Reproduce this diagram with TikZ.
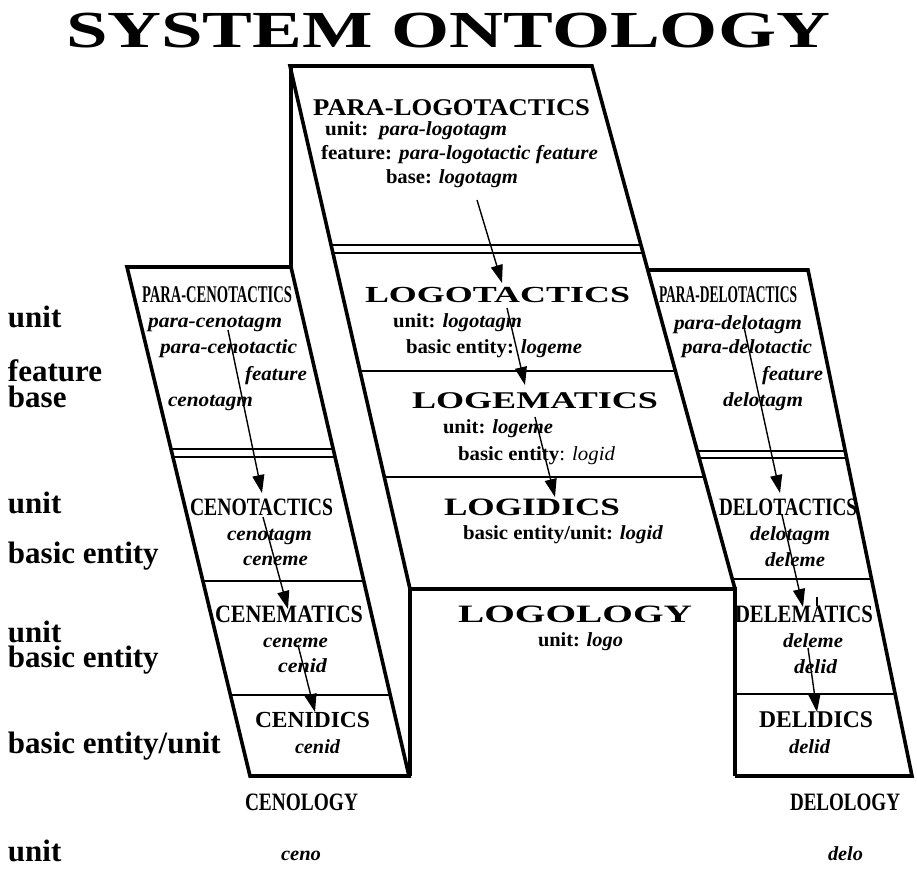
\documentclass[tikz,border=0pt]{standalone}
\usepackage{fontspec}
\setmainfont{Liberation Serif}
\usepackage{graphicx}
\usetikzlibrary{arrows.meta}
\newcommand\fw[2]{\resizebox{#1pt}{\height}{#2}}
\newcommand\fsz[1]{\fontsize{#1}{#1}\selectfont}
\begin{document}
\begin{tikzpicture}[x=1pt,y=-1pt,
  txt/.style={inner sep=0pt, outer sep=0pt, anchor=base west},
  lab/.style={txt, font=\fsz{31}\bfseries},
  edge/.style={line width=3.6pt, line join=miter},
  divider/.style={line width=2pt},
  thinline/.style={line width=1.4pt},
  flow/.style={line width=1.4pt, -{Triangle[length=18pt,width=12pt]}}]
\useasboundingbox (0,0) rectangle (917,868);

% ---------- outlines ----------
% central column
\coordinate (ctl) at (290,66);
\coordinate (ctr) at (592,66);
\coordinate (cbl) at (410,589);
\coordinate (cbr) at (735,589);
\draw[edge] (cbl) -- (ctl) -- (ctr) -- (cbr);
% back vertical and left column
\coordinate (bv) at (291,267);
\coordinate (ltl) at (127,267);
\coordinate (lbl) at (250,776);
\coordinate (lbr) at (409,776);
\draw[edge] (291,66) -- (bv) -- (ltl) -- (lbl) -- (lbr) -- (bv);
% logology face
\coordinate (gbl) at (410,776);
\coordinate (gbr) at (735,776);
\draw[edge] (gbl) -- (cbl) -- (cbr) -- (gbr);
% right column
\coordinate (rtl) at (647.8,270);
\coordinate (rtr) at (808,270);
\coordinate (rbr) at (912,776);
\draw[edge] (rtl) -- (rtr) -- (rbr) -- (gbr);

% ---------- dividers ----------
\draw[divider] (331.1,245) -- (640.9,245);
\draw[thinline] (332.9,253) -- (643.1,253);
\draw[divider] (360.0,371) -- (675.4,371);
\draw[divider] (384.3,477) -- (704.4,477);

\draw[divider] (171.0,449) -- (333.2,449);
\draw[thinline] (172.9,457) -- (335.0,457);
\draw[divider] (202.9,581) -- (363.8,581);
\draw[divider] (230.4,695) -- (390.2,695);

\draw[divider] (697.3,451) -- (845.2,451);
\draw[thinline] (699.2,458) -- (846.6,458);
\draw[divider] (732.3,579) -- (871.5,579);
\draw[divider] (735,694) -- (895.1,694);

% stray tick near DELEMATICS
\draw[line width=1.8pt] (817,597) -- (817,606);

% ---------- title ----------
\node[txt] (title) at (66,47) {\fw{764}{\fsz{52}\bfseries SYSTEM ONTOLOGY}};

% ---------- central column ----------
\node[txt] (plt) at (313,115) {\fw{277}{\fsz{24}\bfseries PARA-LOGOTACTICS}};
\node[txt] (plt1) at (325,135) {\fw{182}{\fsz{20}\bfseries unit:\ \ \textit{para-logotagm}}};
\node[txt] (plt2) at (321,159) {\fw{277}{\fsz{20}\bfseries feature: \textit{para-logotactic feature}}};
\node[txt] (plt3) at (386,183) {\fw{132}{\fsz{20}\bfseries base: \textit{logotagm}}};

\node[txt] (lt) at (365,302) {\fw{265}{\fsz{23}\bfseries LOGOTACTICS}};
\node[txt] (lt1) at (393,327) {\fw{129}{\fsz{20}\bfseries unit: \textit{logotagm}}};
\node[txt] (lt2) at (406,353) {\fw{176}{\fsz{20}\bfseries basic entity: \textit{logeme}}};

\node[txt] (lm) at (412,408) {\fw{246}{\fsz{24}\bfseries LOGEMATICS}};
\node[txt] (lm1) at (443,433) {\fw{110}{\fsz{20}\bfseries unit: \textit{logeme}}};
\node[txt] (lm2) at (458,460) {\fw{157}{\fsz{20}\textbf{basic entity}: \textit{logid}}};

\node[txt] (li) at (444,515) {\fw{176}{\fsz{25}\bfseries LOGIDICS}};
\node[txt] (li1) at (463,539) {\fw{200}{\fsz{20}\bfseries basic entity/unit: \textit{logid}}};

\node[txt] (lg) at (458,622) {\fw{234}{\fsz{25}\bfseries LOGOLOGY}};
\node[txt] (lg1) at (538,646) {\fw{85}{\fsz{20}\bfseries unit: \textit{logo}}};

% ---------- left column ----------
\node[txt] (pc) at (142,302) {\fw{150}{\fsz{24}\bfseries PARA-CENOTACTICS}};
\node[txt] (pc1) at (148,327) {\fw{134}{\fsz{20}\bfseries\itshape para-cenotagm}};
\node[txt] (pc2) at (160,353) {\fw{137}{\fsz{20}\bfseries\itshape para-cenotactic}};
\node[txt] (pc3) at (245,380) {\fw{62}{\fsz{20}\bfseries\itshape feature}};
\node[txt] (pc4) at (168,406) {\fw{85}{\fsz{20}\bfseries\itshape cenotagm}};

\node[txt] (ct) at (190,515) {\fw{143}{\fsz{25}\bfseries CENOTACTICS}};
\node[txt] (ct1) at (227,540) {\fw{85}{\fsz{20}\bfseries\itshape cenotagm}};
\node[txt] (ct2) at (243,565) {\fw{65}{\fsz{20}\bfseries\itshape ceneme}};

\node[txt] (cm) at (215,622) {\fw{148}{\fsz{25}\bfseries CENEMATICS}};
\node[txt] (cm1) at (263,647) {\fw{65}{\fsz{20}\bfseries\itshape ceneme}};
\node[txt] (cm2) at (278,672) {\fw{49}{\fsz{20}\bfseries\itshape cenid}};

\node[txt] (ci) at (255,727) {\fw{115}{\fsz{23}\bfseries CENIDICS}};
\node[txt] (ci1) at (295,753) {\fw{45}{\fsz{20}\bfseries\itshape cenid}};

\node[txt] (cl) at (245,810) {\fw{113}{\fsz{25}\bfseries CENOLOGY}};
\node[txt] (cl1) at (281,860) {\fw{40}{\fsz{20}\bfseries\itshape ceno}};

% ---------- right column ----------
\node[txt] (pd) at (659,302) {\fw{138}{\fsz{24}\bfseries PARA-DELOTACTICS}};
\node[txt] (pd1) at (674,329) {\fw{128}{\fsz{20}\bfseries\itshape para-delotagm}};
\node[txt] (pd2) at (682,353) {\fw{130}{\fsz{20}\bfseries\itshape para-delotactic}};
\node[txt] (pd3) at (762,380) {\fw{61}{\fsz{20}\bfseries\itshape feature}};
\node[txt] (pd4) at (723,406) {\fw{80}{\fsz{20}\bfseries\itshape delotagm}};

\node[txt] (dt) at (719,515) {\fw{138}{\fsz{25}\bfseries DELOTACTICS}};
\node[txt] (dt1) at (750,540) {\fw{80}{\fsz{20}\bfseries\itshape delotagm}};
\node[txt] (dt2) at (765,566) {\fw{60}{\fsz{20}\bfseries\itshape deleme}};

\node[txt] (dm) at (735,622) {\fw{138}{\fsz{25}\bfseries DELEMATICS}};
\node[txt] (dm1) at (783,647) {\fw{60}{\fsz{20}\bfseries\itshape deleme}};
\node[txt] (dm2) at (794,673) {\fw{43}{\fsz{20}\bfseries\itshape delid}};

\node[txt] (di) at (759,727) {\fw{114}{\fsz{24}\bfseries DELIDICS}};
\node[txt] (di1) at (789,753) {\fw{41}{\fsz{20}\bfseries\itshape delid}};

\node[txt] (dl) at (790,810) {\fw{110}{\fsz{25}\bfseries DELOLOGY}};
\node[txt] (dl1) at (828,860) {\fw{35}{\fsz{20}\bfseries\itshape delo}};

% ---------- left labels ----------
\node[lab] (r1) at (8,327) {unit};
\node[lab] (r2) at (8,381) {feature};
\node[lab] (r3) at (8,407) {base};
\node[lab] (r4) at (8,513) {unit};
\node[lab] (r5) at (8,563) {basic entity};
\node[lab] (r6) at (8,642) {unit};
\node[lab] (r7) at (8,667) {basic entity};
\node[lab] (r8) at (8,753) {basic entity/unit};
\node[lab] (r9) at (8,861) {unit};

% ---------- arrows ----------
\coordinate (a1s) at (477,200); \coordinate (a1e) at (502,283);
\coordinate (a2s) at (507,308); \coordinate (a2e) at (525,385);
\coordinate (a3s) at (535,417); \coordinate (a3e) at (555,497);
\coordinate (a4s) at (228,330); \coordinate (a4e) at (262,493);
\coordinate (a5s) at (263,517); \coordinate (a5e) at (288,609);
\coordinate (a6s) at (298,645); \coordinate (a6e) at (315,712);
\coordinate (a7s) at (744,327); \coordinate (a7e) at (780,493);
\coordinate (a8s) at (782,515); \coordinate (a8e) at (803,607);
\coordinate (a9s) at (808,648); \coordinate (a9e) at (817,712);
\foreach \i in {1,...,9} { \draw[flow] (a\i s) -- (a\i e); }
\end{tikzpicture}
\end{document}
